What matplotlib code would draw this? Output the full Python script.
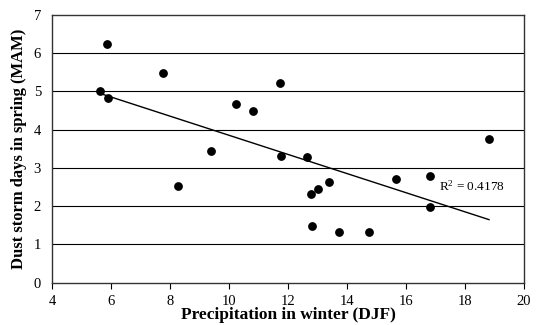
import numpy as np
import matplotlib
matplotlib.use("Agg")
import matplotlib.pyplot as plt

FONT = 'Liberation Serif'

# winter precipitation (DJF) and spring dust storm days (MAM)
precip = [5.86, 5.61, 5.88, 7.75, 10.23, 10.80, 9.40, 8.27, 11.73, 11.76, 12.64,
          12.78, 13.00, 13.38, 12.82, 13.74, 14.74, 15.66, 16.80, 16.81, 18.81]
dust_days = [6.23, 5.01, 4.83, 5.48, 4.66, 4.49, 3.44, 2.53, 5.22, 3.32, 3.27,
             2.32, 2.45, 2.62, 1.49, 1.32, 1.32, 2.71, 2.79, 1.97, 3.75]
r2_label = '0.4178'

plt.rcParams['font.family'] = [FONT, 'DejaVu Serif']
plt.rcParams['mathtext.fontset'] = 'custom'
plt.rcParams['mathtext.rm'] = FONT
plt.rcParams['mathtext.it'] = FONT + ':italic'

x = np.array(precip)
y = np.array(dust_days)
coef = np.polyfit(x, y, 1)
fit = np.poly1d(coef)
x_line = np.array([x.min(), x.max()])

fig = plt.figure(figsize=(5.37, 3.25), dpi=100)
ax = fig.add_axes([0.097, 0.130, 0.879, 0.825])

for yv in range(1, 7):
    ax.axhline(yv, color='black', linewidth=0.8, zorder=1)

ax.plot(x_line, fit(x_line), color='black', linewidth=1.0, zorder=2)
ax.scatter(x, y, s=28, color='black', zorder=3)
ax.text(17.1, 2.52, r'R$^{\mathrm{2}}$ = ' + r2_label, fontsize=9.5, va='center', ha='left')

ax.set_xlim(4, 20)
ax.set_ylim(0, 7)
ax.set_xticks(range(4, 21, 2))
ax.set_yticks(range(0, 8))
ax.tick_params(axis='x', direction='out', length=4, labelsize=10.5, pad=5)
ax.tick_params(axis='y', length=0, labelsize=10.5, pad=8)
for s in ax.spines.values():
    s.set_linewidth(1.0)
    s.set_color('#333333')

ax.set_xlabel('Precipitation in winter (DJF)', fontsize=12.5, fontweight='bold', labelpad=-1)
ax.set_ylabel('Dust storm days in spring (MAM)', fontsize=12, fontweight='bold', labelpad=5)

fig.savefig('out.png', dpi=100)
